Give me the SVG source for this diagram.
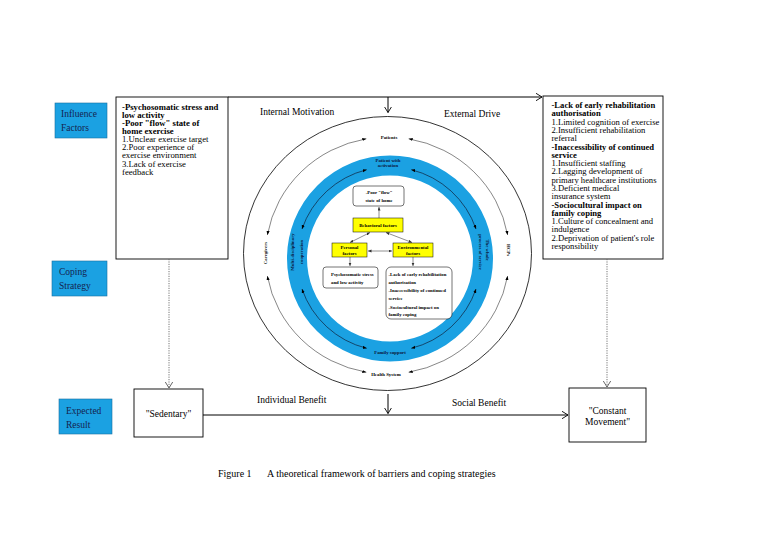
<svg xmlns="http://www.w3.org/2000/svg" width="779" height="551" viewBox="0 0 779 551">
<defs>
<style>
text{font-family:"Liberation Serif","Times New Roman",serif;fill:#000}
.lbl{fill:#1ba1e2;stroke:#1a6fa0;stroke-width:0.6}
.lt{font-size:9.5px;fill:#15234f}
.bt{font-size:8.7px}
.rt{font-size:8.6px}
.b{font-weight:bold}
.mid{font-size:9.5px}
.tiny{font-size:4.8px;font-weight:bold}
.ring{font-size:4.8px;font-weight:bold;fill:#0b1840}
.box{fill:#fff;stroke:#000;stroke-width:0.9}
.ibox{fill:#fff;stroke:#000;stroke-width:0.55}
.ybox{fill:#ffff00;stroke:#000;stroke-width:0.5}
.ln{stroke:#000;stroke-width:1;fill:none}
.dot{stroke:#666;stroke-width:0.9;stroke-dasharray:1.2 1.2;fill:none}
.arc2{stroke:#222;stroke-width:0.55;fill:none}
.arc3{stroke:#10203a;stroke-width:0.7;fill:none}
.iar{stroke:#333;stroke-width:0.55;fill:none}
</style>
<marker id="open" markerUnits="userSpaceOnUse" markerWidth="8" markerHeight="9" refX="6" refY="4" orient="auto">
<path d="M0,0.3 L6,4 L0,7.7" fill="none" stroke="#000" stroke-width="0.9"/>
</marker>
<marker id="openg" markerUnits="userSpaceOnUse" markerWidth="8" markerHeight="9" refX="6" refY="4" orient="auto">
<path d="M0,0.3 L6,4 L0,7.7" fill="none" stroke="#555" stroke-width="0.9"/>
</marker>
<marker id="tip" markerUnits="userSpaceOnUse" markerWidth="5" markerHeight="4" refX="4" refY="1.6" orient="auto-start-reverse">
<path d="M0,0 L4,1.6 L0,3.2 z" fill="#000"/>
</marker>
<marker id="sm" markerUnits="userSpaceOnUse" markerWidth="5" markerHeight="4" refX="3.5" refY="1.5" orient="auto-start-reverse">
<path d="M0,0 L3.5,1.5 L0,3 z" fill="#333"/>
</marker>
</defs>

<g id="label-influence">
<rect class="lbl" x="55" y="103" width="52" height="35"/>
<text class="lt" x="61" y="117">Influence</text>
<text class="lt" x="61" y="131">Factors</text>
</g>
<g id="label-coping">
<rect class="lbl" x="52" y="261" width="55" height="35"/>
<text class="lt" x="59" y="275">Coping</text>
<text class="lt" x="59" y="289">Strategy</text>
</g>
<g id="label-expected">
<rect class="lbl" x="59" y="399" width="53" height="35"/>
<text class="lt" x="66" y="414">Expected</text>
<text class="lt" x="66" y="428">Result</text>
</g>

<g id="left-factors">
<rect class="box" x="116" y="97" width="112" height="162"/>
<text class="bt" x="122">
<tspan class="b" x="122" y="109.5">-Psychosomatic stress and</tspan>
<tspan class="b" x="122" y="117.6">low activity</tspan>
<tspan class="b" x="122" y="125.8">-Poor "flow" state of</tspan>
<tspan class="b" x="122" y="134">home exercise</tspan>
<tspan x="122" y="142.1">1.Unclear exercise target</tspan>
<tspan x="122" y="150.3">2.Poor experience of</tspan>
<tspan x="122" y="158.4">exercise environment</tspan>
<tspan x="122" y="166.6">3.Lack of exercise</tspan>
<tspan x="122" y="174.7">feedback</tspan>
</text>
</g>

<g id="right-factors">
<rect class="box" x="543" y="96" width="120" height="163"/>
<text class="rt">
<tspan class="b" x="551.5" y="108">-Lack of early rehabilitation</tspan>
<tspan class="b" x="551.5" y="116.3">authorisation</tspan>
<tspan x="551.5" y="124.6">1.Limited cognition of exercise</tspan>
<tspan x="551.5" y="132.9">2.Insufficient rehabilitation</tspan>
<tspan x="551.5" y="141.2">referral</tspan>
<tspan class="b" x="551.5" y="149.5">-Inaccessibility of continued</tspan>
<tspan class="b" x="551.5" y="157.7">service</tspan>
<tspan x="551.5" y="166">1.Insufficient staffing</tspan>
<tspan x="551.5" y="174.3">2.Lagging development of</tspan>
<tspan x="551.5" y="182.6">primary healthcare institutions</tspan>
<tspan x="551.5" y="190.9">3.Deficient medical</tspan>
<tspan x="551.5" y="199.2">insurance system</tspan>
<tspan class="b" x="551.5" y="207.5">-Sociocultural impact on</tspan>
<tspan class="b" x="551.5" y="215.8">family coping</tspan>
<tspan x="551.5" y="224.1">1.Culture of concealment and</tspan>
<tspan x="551.5" y="232.4">indulgence</tspan>
<tspan x="551.5" y="240.7">2.Deprivation of patient's role</tspan>
<tspan x="551.5" y="249">responsibility</tspan>
</text>
</g>

<g id="sedentary">
<rect class="box" x="134" y="389" width="69" height="48"/>
<text x="168.5" y="416.5" font-size="9.5" text-anchor="middle">"Sedentary"</text>
</g>
<g id="constant-movement">
<rect class="box" x="569" y="388" width="77" height="54"/>
<text x="607.5" y="413.5" font-size="9.5" text-anchor="middle">"Constant</text>
<text x="607.5" y="424.5" font-size="9.5" text-anchor="middle">Movement"</text>
</g>

<g id="side-texts">
<text class="mid" x="260" y="115">Internal Motivation</text>
<text class="mid" x="444" y="117">External Drive</text>
<text class="mid" x="257" y="403">Individual Benefit</text>
<text class="mid" x="452" y="406">Social Benefit</text>
</g>

<g id="framework-circle">
<ellipse cx="387.5" cy="253.5" rx="144" ry="137" fill="none" stroke="#000" stroke-width="0.8"/>
<circle cx="390" cy="258.5" r="93" fill="none" stroke="#1ba1e2" stroke-width="20"/>
</g>

<g id="connectors">
<path class="ln" d="M228,97 H542" marker-end="url(#open)"/>
<path class="ln" d="M388,97 V112.5" marker-end="url(#open)"/>
<path class="ln" d="M203,415 H568" marker-end="url(#open)"/>
<path class="ln" d="M388,394 V413.5" marker-end="url(#open)"/>
<path class="dot" d="M169,259 V388" marker-end="url(#openg)"/>
<path class="dot" d="M607,259 V387" marker-end="url(#openg)"/>
<path class="arc2" d="M408.7,138.8 A122,118.5 0 0 1 507.6,234.9" marker-start="url(#tip)" marker-end="url(#tip)"/>
<path class="arc2" d="M507.6,276.1 A122,118.5 0 0 1 408.7,372.2" marker-start="url(#tip)" marker-end="url(#tip)"/>
<path class="arc2" d="M366.3,372.2 A122,118.5 0 0 1 267.4,276.1" marker-start="url(#tip)" marker-end="url(#tip)"/>
<path class="arc2" d="M267.4,234.9 A122,118.5 0 0 1 366.3,138.8" marker-start="url(#tip)" marker-end="url(#tip)"/>
<path class="arc3" d="M411.3,169.7 A92,92 0 0 1 476,229" marker-start="url(#tip)" marker-end="url(#tip)"/>
<path class="arc3" d="M476,289 A92,92 0 0 1 411.3,348.3" marker-start="url(#tip)" marker-end="url(#tip)"/>
<path class="arc3" d="M366.7,348.3 A92,92 0 0 1 302,289" marker-start="url(#tip)" marker-end="url(#tip)"/>
<path class="arc3" d="M302,229 A92,92 0 0 1 366.7,169.7" marker-start="url(#tip)" marker-end="url(#tip)"/>
<path class="iar" d="M379,218 V207" marker-end="url(#sm)"/>
<path class="iar" d="M368,251 H392" marker-start="url(#sm)" marker-end="url(#sm)"/>
<path class="iar" d="M350,242.5 L370,232.5" marker-start="url(#sm)" marker-end="url(#sm)"/>
<path class="iar" d="M386,232.5 L412,242.5" marker-start="url(#sm)" marker-end="url(#sm)"/>
<path class="iar" d="M350,257 V266" marker-end="url(#sm)"/>
<path class="iar" d="M413,257 V266" marker-end="url(#sm)"/>
</g>

<g id="circle-labels">
<text class="tiny" x="389" y="138.7" text-anchor="middle">Patients</text>
<text class="tiny" x="386" y="375.7" text-anchor="middle">Health System</text>
<text class="tiny" transform="translate(266.5,253) rotate(-90)" text-anchor="middle">Caregivers</text>
<text class="tiny" transform="translate(507,250) rotate(90)" text-anchor="middle">HCPs</text>
</g>

<g id="ring-labels">
<text class="ring" x="388" y="161.5" text-anchor="middle">Patient with</text>
<text class="ring" x="388" y="166.8" text-anchor="middle">activation</text>
<text class="ring" x="390" y="353.5" text-anchor="middle">Family support</text>
<text class="ring" transform="translate(293.5,252) rotate(-90)" text-anchor="middle">Multi-disciplinary</text>
<text class="ring" transform="translate(302.5,252) rotate(-90)" text-anchor="middle">cooperation</text>
<text class="ring" transform="translate(485.5,250) rotate(90)" text-anchor="middle">The whole</text>
<text class="ring" transform="translate(478.5,252) rotate(90)" text-anchor="middle">process of service</text>
</g>

<g id="flow-state">
<rect class="ibox" x="353" y="186" width="51" height="20" rx="3"/>
<text class="tiny" x="379" y="193.5" text-anchor="middle">-Poor "flow"</text>
<text class="tiny" x="379" y="201.5" text-anchor="middle">state of home</text>
</g>
<g id="behavioral">
<rect class="ybox" x="353" y="218" width="50" height="14"/>
<text class="tiny" x="378" y="226.7" text-anchor="middle">Behavioral factors</text>
</g>
<g id="personal">
<rect class="ybox" x="332" y="243" width="35" height="14"/>
<text class="tiny" x="349.5" y="249" text-anchor="middle">Personal</text>
<text class="tiny" x="349.5" y="254.5" text-anchor="middle">factors</text>
</g>
<g id="environmental">
<rect class="ybox" x="393" y="243" width="40" height="14"/>
<text class="tiny" x="413" y="249" text-anchor="middle">Environmental</text>
<text class="tiny" x="413" y="254.5" text-anchor="middle">factors</text>
</g>
<g id="psychosomatic">
<rect class="ibox" x="323" y="267" width="55" height="21" rx="3"/>
<text class="tiny" x="331" y="275.5">Psychosomatic stress</text>
<text class="tiny" x="331" y="283.5">and low activity</text>
</g>
<g id="env-barriers">
<rect class="ibox" x="386" y="267" width="66" height="52" rx="5"/>
<text class="tiny" x="388.5" y="275.5">-Lack of early rehabilitation</text>
<text class="tiny" x="388.5" y="283.5">authorisation</text>
<text class="tiny" x="388.5" y="292">-Inaccessibility of continued</text>
<text class="tiny" x="388.5" y="299.5">service</text>
<text class="tiny" x="388.5" y="308.5">-Sociocultural impact on</text>
<text class="tiny" x="388.5" y="316">family coping</text>
</g>

<g id="caption">
<text x="218" y="477" font-size="10">Figure 1</text>
<text x="267" y="477" font-size="10">A theoretical framework of barriers and coping strategies</text>
</g>
</svg>
